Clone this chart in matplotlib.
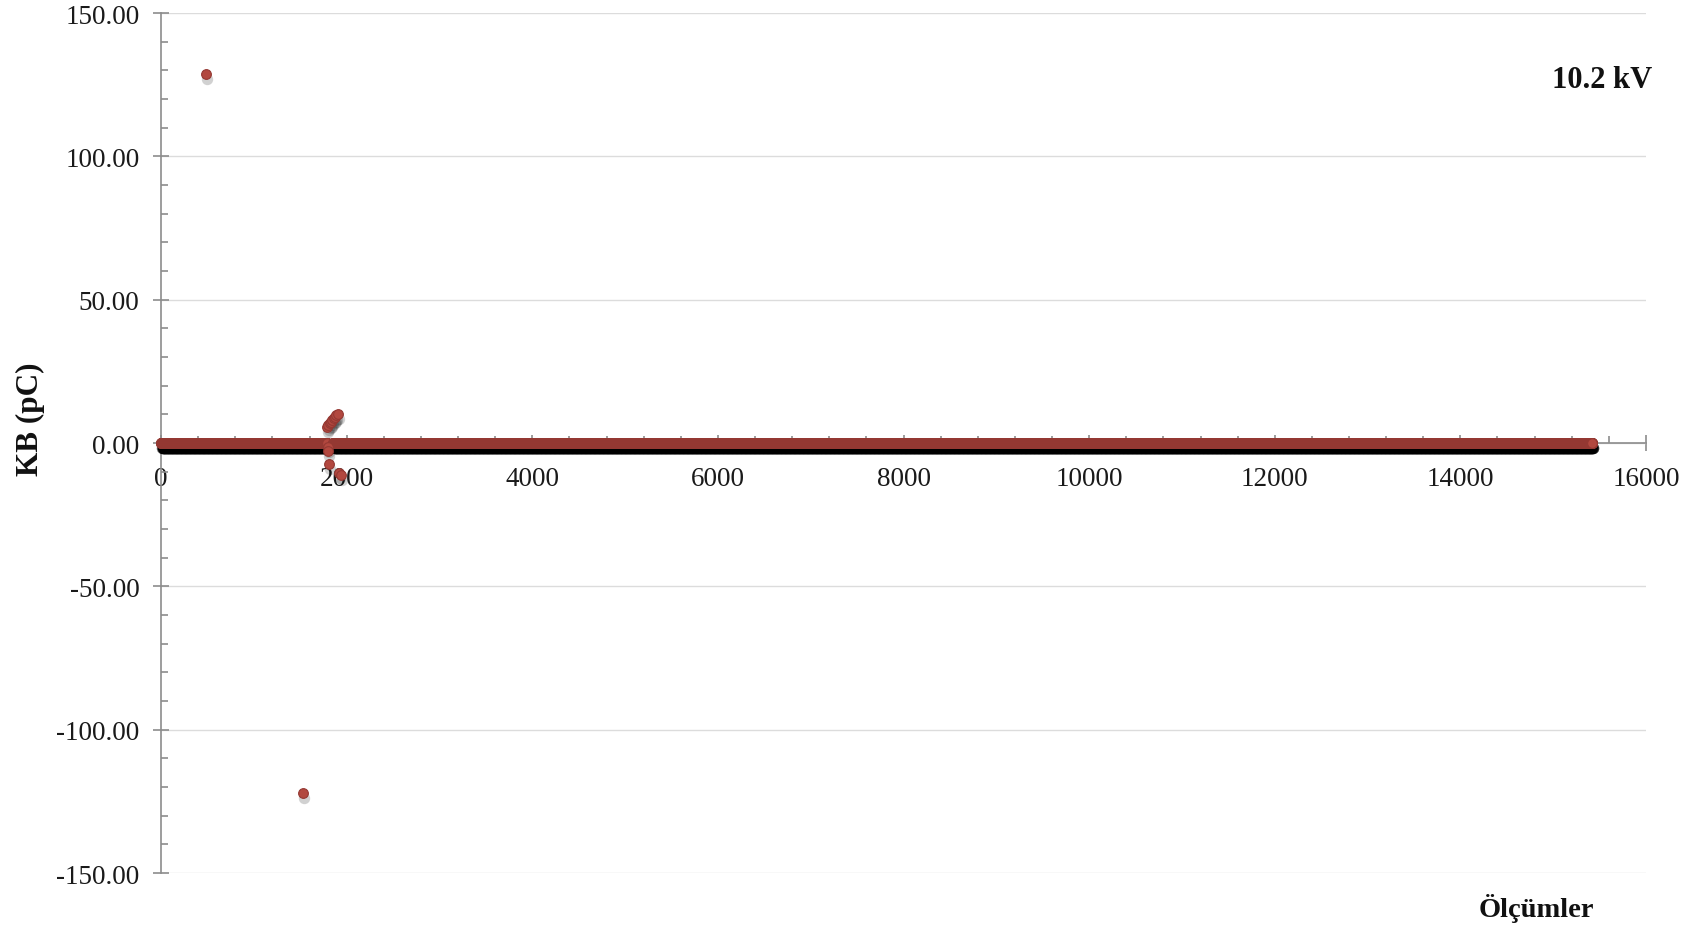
import numpy as np
import matplotlib
matplotlib.use("Agg")
import matplotlib.pyplot as plt
from matplotlib.ticker import MultipleLocator, FuncFormatter
from matplotlib.transforms import offset_copy

# Partial-discharge readings (pC) per measurement index
# steady baseline runs (index ranges, level in pC)
base_runs = [(1, 1790), (1855, 15420)]
base_level = 0.0

# isolated readings off the baseline
event_x = [485, 1534,
           1785, 1800, 1815, 1830, 1845, 1860, 1875, 1890, 1905,
           1800, 1800, 1805, 1920, 1935]
event_y = [128.8, -122.2,
           5.6, 6.3, 6.9, 7.4, 8.0, 8.6, 9.2, 9.7, 10.2,
           -1.4, -2.8, -7.2, -10.5, -11.0]

voltage_label = "10.2 kV"
x_label = "Ölçümler"
y_label = "KB (pC)"

xs = np.concatenate([np.arange(a, b + 1) for a, b in base_runs] + [np.array(event_x)])
ys = np.concatenate([np.full(b - a + 1, base_level) for a, b in base_runs] + [np.array(event_y)])

plt.rcParams['font.family'] = ['Liberation Serif', 'DejaVu Serif']

fig = plt.figure(figsize=(16.99, 9.29), dpi=100)
ax = fig.add_axes([0.0948, 0.0592, 0.9688 - 0.0948, 0.9849 - 0.0592])

ax.set_xlim(0, 16000)
ax.set_ylim(-150, 150)

# axes crossing at the origin
for s in ('top', 'right'):
    ax.spines[s].set_visible(False)
ax.spines['bottom'].set_position(('data', 0))
ax.spines['left'].set_position(('data', 0))
for s in ('bottom', 'left'):
    ax.spines[s].set_color('#8c8c8c')
    ax.spines[s].set_linewidth(1.2)

ax.yaxis.set_major_locator(MultipleLocator(50))
ax.yaxis.set_minor_locator(MultipleLocator(10))
ax.xaxis.set_major_locator(MultipleLocator(2000))
ax.xaxis.set_minor_locator(MultipleLocator(400))
ax.yaxis.set_major_formatter(FuncFormatter(lambda v, p: f"{v:.2f}"))
ax.xaxis.set_major_formatter(FuncFormatter(lambda v, p: f"{v:.0f}"))

ax.tick_params(axis='both', which='major', direction='inout', length=11,
               width=1.2, color='#8c8c8c', labelsize=19.5, labelcolor='#1a1a1a')
ax.tick_params(axis='both', which='minor', direction='in', length=5,
               width=1.2, color='#8c8c8c')
ax.tick_params(axis='y', which='major', pad=10)
ax.tick_params(axis='x', which='major', pad=11)

ax.grid(axis='y', which='major', color='#dcdcdc', linewidth=1.0)
ax.set_axisbelow(True)

# soft drop shadow under the markers
shadow_tr = offset_copy(ax.transData, fig=fig, x=1, y=-5, units='dots')
ax.plot(xs, ys, linestyle='none', marker='o', ms=8.2, mfc='black', mec='none',
        alpha=0.18, transform=shadow_tr, zorder=3, clip_on=False)
ax.plot(xs, ys, linestyle='none', marker='o', ms=7.0, mfc='#b2483f',
        mec='#943832', mew=0.8, zorder=4, clip_on=False)

fig.text(0.943, 0.913, voltage_label, fontsize=22, fontweight='bold',
         ha='center', va='center', color='#111111')
fig.text(0.904, 0.0226, x_label, fontsize=20.5, fontweight='bold',
         ha='center', va='center', color='#111111')
fig.text(0.0177, 0.549, y_label, fontsize=22.5, fontweight='bold', rotation=90,
         ha='center', va='center', color='#111111')

fig.savefig('out.png', dpi=100, facecolor='white')
